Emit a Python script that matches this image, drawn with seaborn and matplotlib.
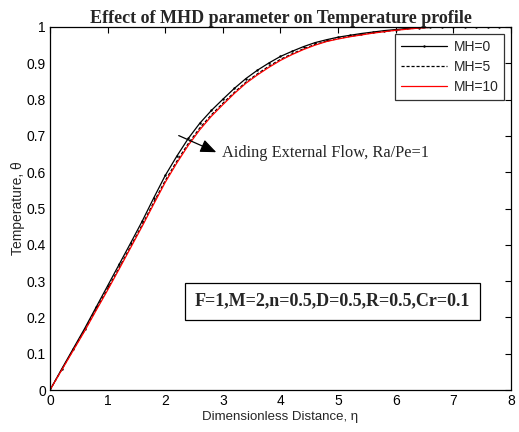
import numpy as np
import pandas as pd
import seaborn as sns
import matplotlib
matplotlib.use('Agg')
import matplotlib.pyplot as plt

eta = [0.0, 0.2, 0.4, 0.6, 0.8, 1.0, 1.2, 1.4, 1.6, 1.8, 2.0, 2.2, 2.4, 2.6, 2.8, 3.0,
       3.2, 3.4, 3.6, 3.8, 4.0, 4.2, 4.4, 4.6, 4.8, 5.0, 5.2, 5.4, 5.6, 5.8, 6.0,
       6.2, 6.4, 6.6, 6.8, 7.0, 7.2, 7.4, 7.6, 7.8, 8.0]
mh0 = [0.0, 0.057, 0.113, 0.169, 0.228, 0.287, 0.346, 0.405, 0.465, 0.529, 0.591, 0.644,
       0.693, 0.735, 0.770, 0.801, 0.831, 0.858, 0.881, 0.901, 0.919, 0.933, 0.946, 0.957,
       0.965, 0.972, 0.977, 0.982, 0.986, 0.990, 0.993, 0.996, 0.998, 0.999, 1.0, 1.0,
       1.0, 1.0, 1.0, 1.0, 1.0]
mh5 = [0.0, 0.055, 0.110, 0.164, 0.222, 0.279, 0.337, 0.396, 0.455, 0.517, 0.577, 0.630,
       0.679, 0.722, 0.758, 0.790, 0.820, 0.848, 0.871, 0.892, 0.911, 0.926, 0.940, 0.952,
       0.961, 0.968, 0.974, 0.979, 0.984, 0.988, 0.991, 0.995, 0.997, 0.999, 1.0, 1.0,
       1.0, 1.0, 1.0, 1.0, 1.0]
mh10 = [0.0, 0.054, 0.108, 0.162, 0.219, 0.275, 0.333, 0.392, 0.451, 0.512, 0.572, 0.625,
        0.674, 0.717, 0.754, 0.786, 0.817, 0.845, 0.868, 0.889, 0.908, 0.924, 0.938, 0.950,
        0.960, 0.967, 0.973, 0.978, 0.983, 0.987, 0.991, 0.994, 0.997, 0.999, 1.0, 1.0,
        1.0, 1.0, 1.0, 1.0, 1.0]
labels = ['MH=0', 'MH=5', 'MH=10']

df = pd.DataFrame({'eta': eta * 3,
                   'theta': mh0 + mh5 + mh10,
                   'case': [labels[0]] * len(eta) + [labels[1]] * len(eta) + [labels[2]] * len(eta)})

sns.set_style('white')
plt.rcParams['font.family'] = ['Liberation Sans', 'DejaVu Sans']

fig = plt.figure(figsize=(5.19, 4.32), dpi=100)
ax = fig.add_axes([0.0963, 0.0972, 0.8883, 0.8403])

sns.lineplot(data=df[df['case'] == labels[0]], x='eta', y='theta', color='black', linewidth=0.9,
             marker='.', markersize=3.5, markeredgewidth=0, label=labels[0], ax=ax)
sns.lineplot(data=df[df['case'] == labels[1]], x='eta', y='theta', color='black', linewidth=0.9,
             linestyle=(0, (2.5, 1.5)), label=labels[1], ax=ax)
sns.lineplot(data=df[df['case'] == labels[2]], x='eta', y='theta', color='red', linewidth=0.9,
             label=labels[2], ax=ax)

ax.set_xlim(0, 8)
ax.set_ylim(0, 1)
ax.set_xticks(range(0, 9))
ax.set_yticks(np.arange(0, 1.01, 0.1))
ax.set_yticklabels(['0', '0.1', '0.2', '0.3', '0.4', '0.5', '0.6', '0.7', '0.8', '0.9', '1'])
ax.tick_params(direction='in', length=4, width=0.8, top=True, right=True, labelsize=10,
               pad=3, colors='black')
for s in ax.spines.values():
    s.set_color('black')
    s.set_linewidth(0.9)

ax.set_xlabel('Dimensionless Distance, η', fontsize=9.5, labelpad=2)
ax.set_ylabel('Temperature, θ', fontsize=10, labelpad=1)
ax.set_title('Effect of MHD parameter on Temperature profile', fontsize=13, fontweight='bold',
             family='Liberation Serif', pad=3)

leg = ax.legend(loc='upper right', fontsize=10, frameon=True, fancybox=False, handlelength=3.3,
                borderpad=0.4, labelspacing=0.45, borderaxespad=0.5, handletextpad=0.5)
leg.get_frame().set_edgecolor('black')
leg.get_frame().set_linewidth(0.9)

ax.annotate('', xy=(2.93, 0.652), xytext=(2.19, 0.704),
            arrowprops=dict(arrowstyle='-|>,head_length=0.6,head_width=0.25', color='black',
                            lw=0.9, mutation_scale=16))
ax.text(2.98, 0.652, 'Aiding External Flow, Ra/Pe=1', fontsize=11.8, family='Liberation Serif',
        va='center', ha='left')
ax.text(4.90, 0.245, 'F=1,M=2,n=0.5,D=0.5,R=0.5,Cr=0.1', fontsize=13, fontweight='bold',
        family='Liberation Serif', va='center', ha='center',
        bbox=dict(boxstyle='square,pad=0.55', facecolor='white', edgecolor='black', linewidth=0.9))

fig.savefig('out.png', dpi=100)
